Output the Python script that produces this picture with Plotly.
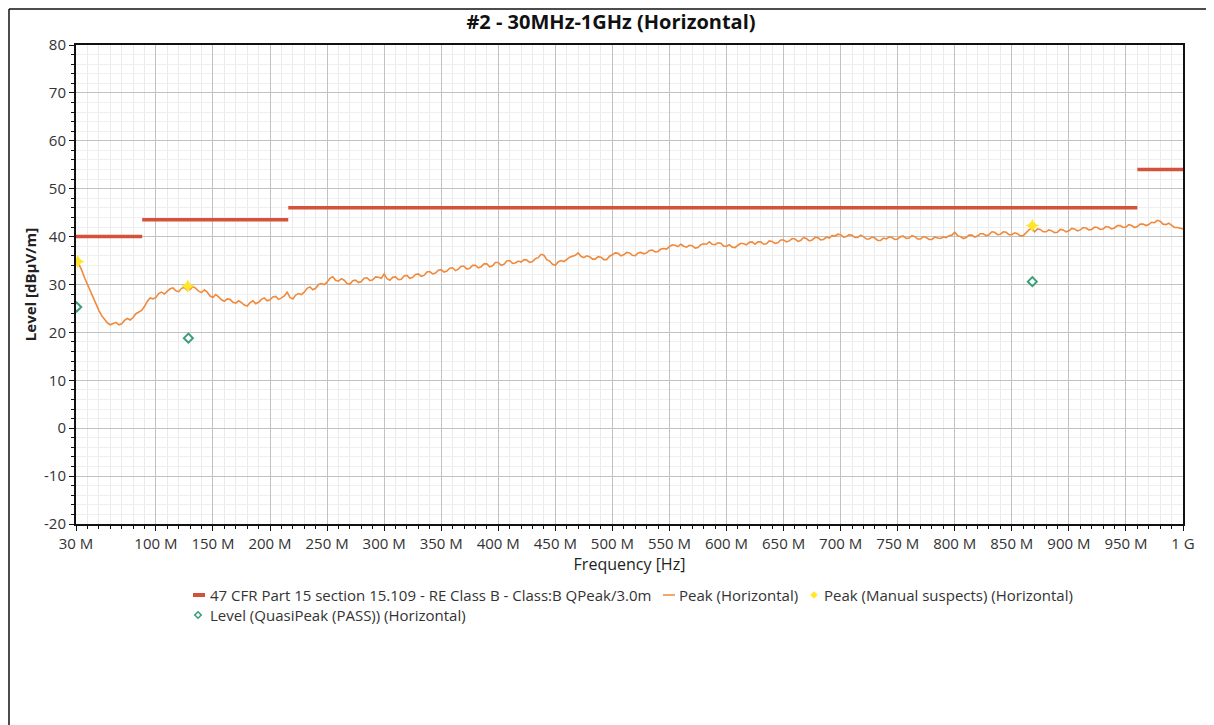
import plotly.graph_objects as go

# ---- data ----
FREQ_START, FREQ_STEP = 30.0, 2.5
peak_db = [
    35.5, 34.3, 33.0, 31.4, 30.0, 28.5, 27.1, 25.7, 24.6, 23.5, 22.8, 22.0, 21.6, 21.9, 22.1, 21.6, 21.8, 22.5, 22.9, 22.6,
    23.1, 23.9, 24.3, 24.6, 25.4, 26.5, 27.2, 27.0, 27.3, 28.1, 28.4, 28.0, 28.6, 29.1, 29.3, 28.7, 28.5, 29.2, 29.4, 28.8,
    29.0, 29.6, 29.2, 28.6, 28.3, 28.9, 28.4, 27.6, 27.3, 27.9, 27.4, 26.8, 26.5, 27.0, 26.9, 26.3, 26.1, 26.6, 26.2, 25.7,
    25.5, 26.2, 26.6, 26.0, 26.3, 26.9, 27.2, 26.6, 26.8, 27.4, 27.5, 26.9, 27.2, 27.6, 28.4, 27.3, 27.0, 27.8, 28.1, 27.9,
    28.4, 29.2, 29.5, 28.9, 29.2, 30.0, 30.2, 30.0, 30.5, 31.3, 31.6, 30.9, 30.7, 31.2, 30.9, 30.2, 30.1, 30.8, 30.9, 30.4,
    30.6, 31.3, 31.4, 30.8, 31.0, 31.6, 31.5, 31.3, 32.2, 31.2, 30.9, 31.5, 31.6, 31.0, 31.1, 31.8, 31.9, 31.3, 31.5, 32.1,
    32.2, 31.7, 31.9, 32.6, 32.7, 32.2, 32.4, 33.0, 33.1, 32.6, 32.8, 33.4, 33.5, 32.9, 33.2, 33.8, 33.8, 33.2, 33.4, 34.0,
    34.0, 33.5, 33.7, 34.3, 34.3, 33.7, 33.9, 34.6, 34.6, 34.0, 34.2, 34.9, 35.0, 34.4, 34.5, 34.9, 34.7, 35.2, 35.1, 34.6,
    34.8, 35.4, 35.6, 36.3, 36.1, 35.2, 34.9, 34.2, 34.0, 34.7, 35.0, 34.8, 35.2, 35.7, 35.9, 36.1, 36.6, 35.9, 35.6, 36.0,
    35.8, 35.3, 35.3, 35.8, 35.7, 35.2, 35.2, 35.9, 36.2, 36.6, 36.5, 36.0, 36.2, 36.7, 36.6, 36.1, 36.0, 36.6, 36.7, 36.4,
    36.6, 37.1, 37.2, 36.8, 36.9, 37.4, 37.5, 37.4, 37.9, 38.3, 38.2, 37.9, 38.4, 38.0, 37.8, 38.2, 38.1, 37.6, 37.7, 38.3,
    38.5, 38.4, 38.9, 38.4, 38.3, 38.7, 38.6, 38.0, 38.0, 38.3, 37.8, 37.7, 38.2, 38.6, 38.5, 38.3, 38.8, 38.9, 38.4, 38.9,
    38.9, 38.4, 38.5, 39.1, 39.0, 38.6, 38.7, 39.3, 39.3, 38.9, 39.1, 39.6, 39.5, 39.0, 39.2, 39.8, 39.6, 39.1, 39.3, 39.8,
    39.8, 39.3, 39.4, 39.9, 39.7, 40.2, 40.1, 40.5, 40.4, 39.9, 40.0, 40.4, 40.3, 39.8, 39.8, 40.3, 40.0, 39.5, 39.5, 39.9,
    39.7, 39.2, 39.2, 39.7, 39.5, 39.9, 39.8, 39.4, 39.5, 40.0, 40.1, 39.6, 39.7, 40.2, 40.0, 39.5, 39.5, 40.0, 39.8, 39.4,
    39.4, 39.9, 39.7, 39.6, 39.9, 39.8, 40.2, 40.3, 40.9, 40.2, 40.0, 39.6, 39.8, 40.3, 40.3, 39.9, 40.1, 40.6, 40.6, 40.2,
    40.4, 41.0, 40.9, 40.4, 40.5, 41.0, 40.9, 40.4, 40.4, 40.8, 40.6, 40.1, 40.2, 40.9, 41.4, 41.8, 41.0, 41.6, 41.5, 41.0,
    41.0, 41.4, 41.2, 40.8, 40.9, 41.5, 41.4, 41.0, 41.2, 41.7, 41.6, 41.2, 41.4, 41.9, 41.8, 41.4, 41.5, 42.0, 41.9, 41.5,
    41.6, 42.1, 42.0, 41.6, 41.8, 42.3, 42.3, 41.9, 42.0, 42.5, 42.3, 41.9, 42.1, 42.6, 42.6, 42.3, 42.5, 43.0, 42.9, 43.4,
    43.2, 42.6, 42.5, 42.8, 42.4, 41.9, 41.9, 41.8, 41.6,
]
freq_mhz = [FREQ_START + FREQ_STEP * i for i in range(len(peak_db))]

limit_freq = [30, 88, None, 88, 216, None, 216, 960, None, 960, 1000]
limit_db = [40, 40, None, 43.5, 43.5, None, 46, 46, None, 54, 54]

suspect_freq = [31.5, 128, 868]
suspect_db = [34.8, 29.7, 42.3]

qp_freq = [30.6, 128.5, 868]
qp_db = [25.3, 18.8, 30.6]

x_tickvals = [30, 100, 150, 200, 250, 300, 350, 400, 450, 500, 550, 600,
              650, 700, 750, 800, 850, 900, 950, 1000]
x_ticktext = ["30 M", "100 M", "150 M", "200 M", "250 M", "300 M", "350 M",
              "400 M", "450 M", "500 M", "550 M", "600 M", "650 M", "700 M",
              "750 M", "800 M", "850 M", "900 M", "950 M", "1 G"]

y_tickvals = [-20, -10, 0, 10, 20, 30, 40, 50, 60, 70, 80]
y_ticktext = ["-20", "-10", "0", "10", "20", "30", "40", "50", "60", "70", "80"]

legend_names = [
    "47 CFR Part 15 section 15.109 - RE Class B - Class:B QPeak/3.0m",
    "Peak (Horizontal)",
    "Peak (Manual suspects) (Horizontal)",
    "Level (QuasiPeak (PASS)) (Horizontal)",
]

FONT = "Open Sans"
C_LIMIT = "#D4513B"
C_PEAK = "#EF8A3D"
C_SUSP = "#FFE62A"
C_QP = "#3A9E78"
TXT = "#333333"

# page geometry (browser body has an 8px margin)
OFF = 8
W, H = 1214 - OFF, 725 - OFF
PL, PR, PT, PB = 76, 1183, 45, 524          # plot box in page pixels
PW, PH = PR - PL, PB - PT


def px(X):
    return (X - PL) / PW


def py(Y):
    return (PB - Y) / PH


fig = go.Figure()
fig.add_trace(go.Scatter(
    x=limit_freq, y=limit_db, mode="lines", name=legend_names[0],
    line=dict(color=C_LIMIT, width=3.5), connectgaps=False, showlegend=False,
))
fig.add_trace(go.Scatter(
    x=freq_mhz, y=peak_db, mode="lines", name=legend_names[1],
    line=dict(color=C_PEAK, width=1.6), showlegend=False,
))
fig.add_trace(go.Scatter(
    x=suspect_freq, y=suspect_db, mode="markers", name=legend_names[2],
    marker=dict(symbol="star-diamond", size=10, color=C_SUSP, line=dict(width=0)),
    showlegend=False,
))
fig.add_trace(go.Scatter(
    x=qp_freq, y=qp_db, mode="markers", name=legend_names[3],
    marker=dict(symbol="diamond-open", size=7, color=C_QP,
                line=dict(width=2, color=C_QP)),
    showlegend=False,
))

shapes = []
# outer frame: top and left edges
FRAME_TOP = OFF + 1
shapes.append(dict(type="line", xref="paper", yref="paper",
                   x0=px(OFF + 1), x1=px(1207), y0=py(FRAME_TOP), y1=py(FRAME_TOP),
                   line=dict(color="#111111", width=1.5)))
shapes.append(dict(type="line", xref="paper", yref="paper",
                   x0=px(OFF + 1), x1=px(OFF + 1), y0=py(FRAME_TOP), y1=py(760),
                   line=dict(color="#111111", width=1.5)))

# custom legend (symbols + text)
ROW1, ROW2 = 595, 615
shapes.append(dict(type="line", xref="paper", yref="paper",
                   x0=px(193), x1=px(205), y0=py(ROW1), y1=py(ROW1),
                   line=dict(color=C_LIMIT, width=4)))
shapes.append(dict(type="line", xref="paper", yref="paper",
                   x0=px(663), x1=px(675), y0=py(ROW1), y1=py(ROW1),
                   line=dict(color=C_PEAK, width=1.5)))


def diamond_path(X, Y, r):
    return (f"M {px(X - r)},{py(Y)} L {px(X)},{py(Y - r)} "
            f"L {px(X + r)},{py(Y)} L {px(X)},{py(Y + r)} Z")


shapes.append(dict(type="path", xref="paper", yref="paper",
                   path=diamond_path(814, ROW1, 3.5),
                   fillcolor=C_SUSP, line=dict(color=C_SUSP, width=0.5)))
shapes.append(dict(type="path", xref="paper", yref="paper",
                   path=diamond_path(198, ROW2, 3.2),
                   fillcolor="rgba(0,0,0,0)", line=dict(color=C_QP, width=1.6)))

legend_text_x = [208, 677, 822, 208]
legend_rows = [ROW1, ROW1, ROW1, ROW2]
annotations = []
for name, lx, ly in zip(legend_names, legend_text_x, legend_rows):
    annotations.append(dict(
        text=name, xref="paper", yref="paper", x=px(lx), y=py(ly),
        xanchor="left", yanchor="middle", showarrow=False,
        font=dict(family=FONT, size=15, color=TXT),
    ))

fig.update_layout(
    width=W, height=H,
    margin=dict(l=PL - OFF, r=W - (PR - OFF), t=PT - OFF, b=H - (PB - OFF)),
    paper_bgcolor="white", plot_bgcolor="white",
    font=dict(family=FONT, size=15, color=TXT),
    title=dict(text="<b>#2 - 30MHz-1GHz (Horizontal)</b>",
               x=0.5, xref="container", xanchor="center",
               y=1 - (22 - OFF) / H, yref="container", yanchor="middle",
               font=dict(family=FONT, size=20, color="#111111")),
    showlegend=False,
    shapes=shapes,
    annotations=annotations,
)

fig.update_xaxes(
    range=[30, 1000], tickmode="array", tickvals=x_tickvals, ticktext=x_ticktext,
    showline=True, linecolor="#111111", linewidth=2, mirror=True,
    ticks="outside", ticklen=5, tickcolor="#111111",
    showgrid=True, gridcolor="#C2C2C2", gridwidth=1,
    minor=dict(tick0=0, dtick=10, showgrid=True, gridcolor="#EAEAEA",
               ticks="outside", ticklen=3, tickcolor="#111111"),
    zeroline=False,
    tickfont=dict(family=FONT, size=15, color=TXT),
    title=dict(text="Frequency [Hz]", standoff=6,
               font=dict(family=FONT, size=16, color="#222222")),
)
fig.update_yaxes(
    range=[-20, 80], tickmode="array", tickvals=y_tickvals, ticktext=y_ticktext,
    showline=True, linecolor="#111111", linewidth=2, mirror=True,
    ticks="outside", ticklen=5, tickcolor="#111111",
    showgrid=True, gridcolor="#C2C2C2", gridwidth=1,
    minor=dict(tick0=0, dtick=2, showgrid=True, gridcolor="#EFEFEF",
               ticks="outside", ticklen=3, tickcolor="#111111"),
    zeroline=False,
    tickfont=dict(family=FONT, size=15, color=TXT),
    title=dict(text="<b>Level [dBµV/m]</b>", standoff=4,
               font=dict(family=FONT, size=15, color="#222222")),
)

fig.write_html("out.html")
